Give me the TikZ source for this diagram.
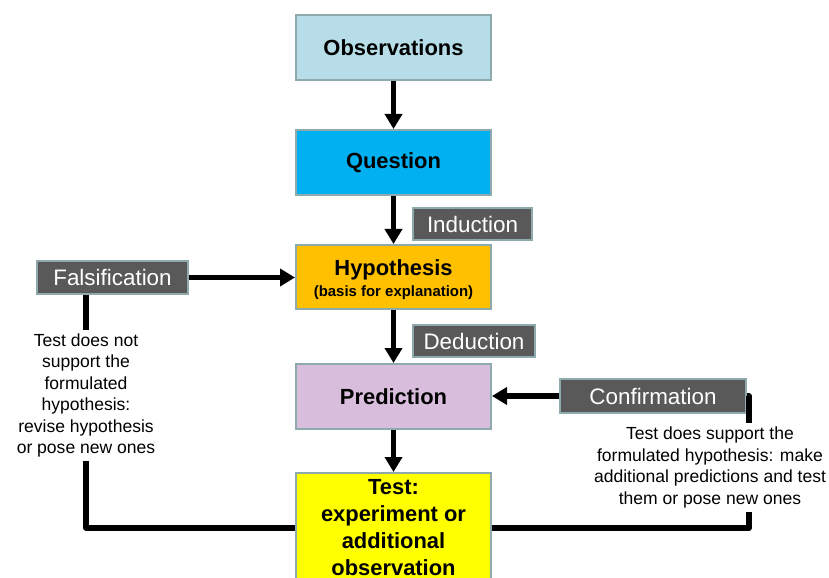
\documentclass[tikz,border=0pt]{standalone}
\usepackage{fontspec}
\setmainfont{Liberation Sans}
\usetikzlibrary{arrows.meta}

\definecolor{edgegray}{HTML}{8FAAAD}
\definecolor{labelgray}{HTML}{595959}
\definecolor{obsfill}{HTML}{B7DEE8}
\definecolor{quefill}{HTML}{00B0F0}
\definecolor{hypfill}{HTML}{FFC000}
\definecolor{prefill}{HTML}{D8BDDC}
\definecolor{testfill}{HTML}{FFFF00}

\begin{document}
\begin{tikzpicture}[x=1bp,y=-1bp,
  stagebox/.style={draw=edgegray, line width=2bp, inner sep=0pt,
    minimum width=195bp, minimum height=65bp, align=center,
    font=\fontsize{22}{27}\selectfont\bfseries},
  tagbox/.style={draw=edgegray, line width=2bp, fill=labelgray, text=white,
    inner sep=0pt, minimum height=32bp, font=\fontsize{22.5}{26}\selectfont},
  notetext/.style={align=center, inner sep=4bp,
    font=\fontsize{17.6}{21.5}\selectfont},
  flow/.style={line width=5.5bp, -{Triangle[width=17bp,length=15bp]}},
  loop/.style={line width=5.5bp, line join=round}]

\useasboundingbox (0,0) rectangle (829,578);
\clip (0,0) rectangle (829,578);

% main stages
\node[stagebox, fill=obsfill] (obs) at (393.5,47.5) {Observations};
\node[stagebox, fill=quefill] (que) at (393.5,162.5) {Question};
\node[stagebox, fill=hypfill, minimum height=64bp] (hyp) at (393.5,277)
  {\rule{0pt}{21bp}Hypothesis\\[-5bp]{\fontsize{15}{18}\selectfont(basis for explanation)}};
\node[stagebox, fill=prefill] (pre) at (393.5,396.5) {Prediction};
\node[stagebox, fill=testfill, minimum height=109bp] (test) at (393.5,527.5)
  {Test:\\experiment or\\additional\\observation};

% reasoning tags
\node[tagbox, minimum width=119bp] (ind) at (472.5,224) {Induction};
\node[tagbox, minimum width=122bp] (ded) at (474,341) {Deduction};
\node[tagbox, minimum width=151bp, minimum height=33bp] (fals) at (112.5,277.5) {Falsification};
\node[tagbox, minimum width=186bp, minimum height=34bp] (conf) at (653,396) {Confirmation};

% outcome notes
\node[notetext] (nfals) at (86,395.5)
  {Test does not\\support the\\formulated\\hypothesis:\\revise hypothesis\\or pose new ones};
\node[notetext] (nconf) at (710,467.5)
  {Test does support the\\formulated hypothesis: make\\additional predictions and test\\them or pose new ones};

% routing helpers
\coordinate (rx) at (749,0);
\coordinate (lowy) at (0,528);

% main flow
\draw[flow] (obs) -- (que);
\draw[flow] (que) -- (hyp);
\draw[flow] (hyp) -- (pre);
\draw[flow] (pre) -- (test);
\draw[flow] (fals.east) -- (fals.east -| hyp.west);
\draw[flow] (conf.west) -- (conf.west -| pre.east);

% feedback from the test
\draw[loop] (nfals.north |- fals.south) -- (nfals.north);
\draw[loop] (nfals.south) |- (test.west |- lowy);
\draw[loop] (conf.east) -| (rx |- nconf.north);
\draw[loop] (rx |- nconf.south) |- (test.east |- lowy);

\end{tikzpicture}
\end{document}
